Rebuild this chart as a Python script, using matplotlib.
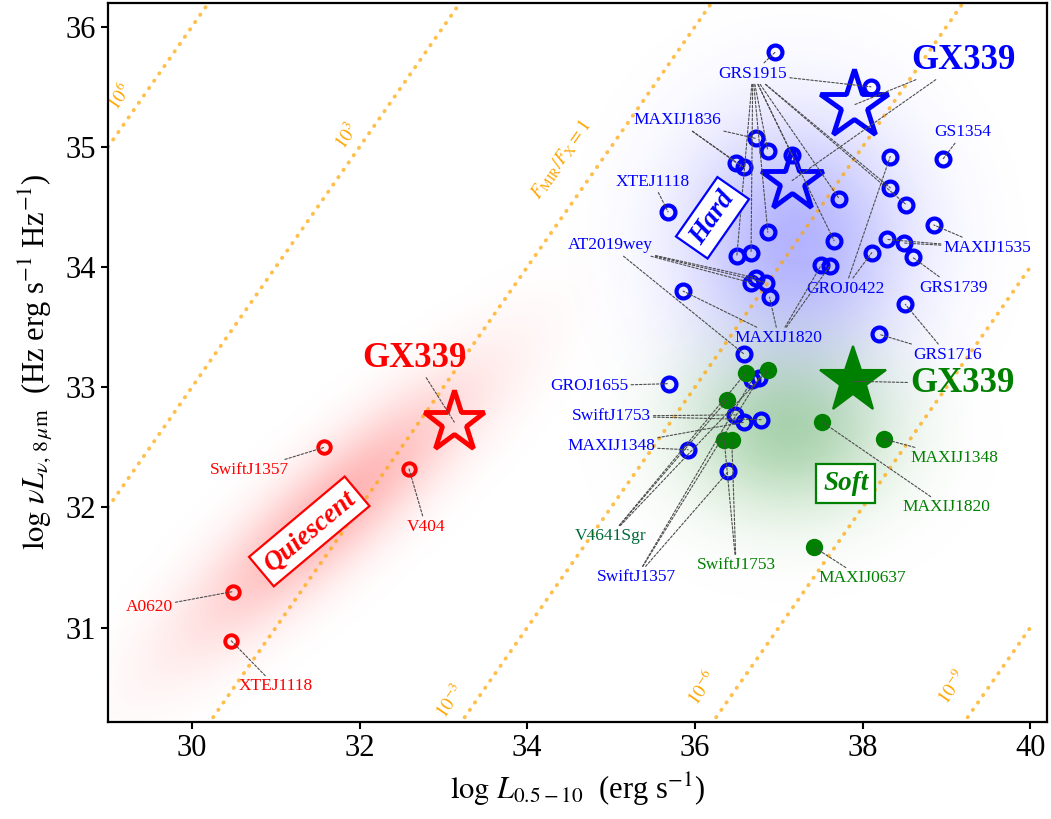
import numpy as np
import matplotlib
matplotlib.use("Agg")
import matplotlib.pyplot as plt

plt.rcParams["font.family"] = ["Liberation Serif", "DejaVu Serif"]
plt.rcParams["mathtext.fontset"] = "stix"

# ---------------- data ----------------
# hard state (open blue circles)
hard_x = [36.96, 38.10, 36.73, 36.87, 36.49, 36.58, 37.16, 38.96, 38.33, 38.33,
          38.52, 38.85, 37.72, 35.68, 36.87, 38.29, 38.50, 38.60, 38.11, 37.66,
          36.67, 36.50, 37.51, 37.61, 36.73, 36.67, 36.85, 36.89, 35.86, 38.51,
          38.20, 36.58, 35.69, 36.68, 36.77, 36.48, 36.59, 36.79, 35.92, 36.40]
hard_y = [35.79, 35.50, 35.07, 34.97, 34.87, 34.83, 34.93, 34.90, 34.92, 34.66,
          34.52, 34.35, 34.57, 34.46, 34.29, 34.23, 34.20, 34.08, 34.12, 34.22,
          34.12, 34.09, 34.02, 34.01, 33.91, 33.87, 33.87, 33.75, 33.80, 33.69,
          33.44, 33.28, 33.03, 33.06, 33.08, 32.77, 32.71, 32.73, 32.48, 32.30]
hard_src = ["GRS1915", "GRS1915", "MAXIJ1836", "GRS1915", "MAXIJ1836", "MAXIJ1836",
            "GRS1915", "GS1354", "GROJ0422", "GRS1915", "GRS1915", "MAXIJ1535",
            "GRS1915", "XTEJ1118", "GRS1915", "MAXIJ1535", "MAXIJ1535", "GRS1739",
            "GROJ0422", "GRS1915", "GRS1915", "GRS1915", "MAXIJ1820", "MAXIJ1820",
            "AT2019wey", "AT2019wey", "AT2019wey", "MAXIJ1820", "MAXIJ1820", "GRS1716",
            "GRS1716", "AT2019wey", "GROJ1655", "SwiftJ1357", "SwiftJ1357", "SwiftJ1753",
            "MAXIJ1348", "SwiftJ1753", "MAXIJ1348", "SwiftJ1357"]
hard_gx_x = [37.90, 37.16]
hard_gx_y = [35.35, 34.72]

# soft state (filled green circles)
soft_x = [36.61, 36.87, 36.38, 36.35, 36.44, 37.52, 38.25, 37.42]
soft_y = [33.12, 33.14, 32.89, 32.56, 32.56, 32.71, 32.57, 31.67]
soft_src = ["V4641Sgr", "V4641Sgr", "V4641Sgr", "SwiftJ1753", "SwiftJ1753",
            "MAXIJ1820", "MAXIJ1348", "MAXIJ0637"]
soft_gx_x = [37.88]
soft_gx_y = [33.05]

# quiescence (open red circles)
quies_x = [30.49, 30.47, 31.58, 32.59]
quies_y = [31.30, 30.89, 32.50, 32.32]
quies_src = ["A0620", "XTEJ1118", "SwiftJ1357", "V404"]
quies_gx_x = [33.13]
quies_gx_y = [32.71]

# constant MIR/X-ray flux ratios (log)
ratio_log = [6, 3, 0, -3, -6, -9]
ratio_text = [r"$10^{6}$", r"$10^{3}$", r"$F_{\rm MIR}/F_{\rm X}=1$",
              r"$10^{-3}$", r"$10^{-6}$", r"$10^{-9}$"]
ratio_text_pos = [(29.14, 35.42), (31.85, 35.09), (34.40, 34.90),
                  (33.09, 30.38), (36.09, 30.50), (39.07, 30.50)]

# label placement
hard_label_pos = {
    "GRS1915": (36.69, 35.61), "MAXIJ1836": (35.79, 35.22), "XTEJ1118": (35.50, 34.71),
    "AT2019wey": (34.99, 34.18), "GROJ0422": (37.79, 33.82), "MAXIJ1820": (37.00, 33.41),
    "GS1354": (39.20, 35.12), "MAXIJ1535": (39.49, 34.16), "GRS1739": (39.09, 33.83),
    "GRS1716": (39.01, 33.27), "GROJ1655": (34.74, 33.01), "SwiftJ1753": (35.00, 32.76),
    "MAXIJ1348": (35.00, 32.51), "SwiftJ1357": (35.30, 31.42),
}
soft_label_pos = {
    "V4641Sgr": (34.99, 31.76), "SwiftJ1753": (36.49, 31.52), "MAXIJ1348": (39.10, 32.41),
    "MAXIJ1820": (39.00, 32.00), "MAXIJ0637": (38.00, 31.41),
}
quies_label_pos = {
    "SwiftJ1357": (30.69, 32.31), "V404": (32.79, 31.84), "A0620": (29.49, 31.17),
    "XTEJ1118": (31.00, 30.51),
}

RED, BLUE, GREEN, DKGREEN, ORANGE = "#ff0000", "#0000ff", "#008000", "#006a3a", "#ffa500"

# ---------------- figure ----------------
fig = plt.figure(figsize=(10.51, 8.19), dpi=100)
ax = fig.add_axes([0.1028, 0.1188, 0.8934, 0.8779])
xlim = (29.0, 40.2)
ylim = (30.217, 36.2)

bb = ax.get_window_extent()
sx = bb.width / (xlim[1] - xlim[0])
sy = bb.height / (ylim[1] - ylim[0])
pix_angle = np.degrees(np.arctan2(sy, sx))

# soft shaded regions for each accretion state
gx = np.linspace(*xlim, 700)
gy = np.linspace(*ylim, 500)
GX, GY = np.meshgrid(gx, gy)


def blob(cx, cy, sig_a, sig_b, angle, rgb, amax):
    t = np.radians(angle)
    dx = (GX - cx) * sx
    dy = (GY - cy) * sy
    u = dx * np.cos(t) + dy * np.sin(t)
    v = -dx * np.sin(t) + dy * np.cos(t)
    img = np.zeros(GX.shape + (4,))
    img[..., :3] = matplotlib.colors.to_rgb(rgb)
    img[..., 3] = amax * np.exp(-0.5 * ((u / sig_a) ** 2 + (v / sig_b) ** 2))
    ax.imshow(img, extent=(*xlim, *ylim), origin="lower", aspect="auto",
              zorder=0, interpolation="bilinear")


blob(31.68, 31.98, 130, 34, 42, RED, 0.30)
blob(37.22, 34.20, 78, 85, 0, BLUE, 0.30)
blob(37.12, 32.64, 72, 58, 0, GREEN, 0.32)

# flux-ratio lines
xx = np.array([29.0, 40.0])
for k, txt, (tx, ty) in zip(ratio_log, ratio_text, ratio_text_pos):
    ax.plot(xx, xx + k, color=ORANGE, alpha=0.7, lw=2.8, ls=(0, (0.1, 2.2)),
            dash_capstyle="round", zorder=1)
    ax.text(tx, ty, txt, color=ORANGE, fontsize=13.5, rotation=pix_angle,
            ha="center", va="center", zorder=1)

LEADER = dict(arrowstyle="-", ls=(0, (2.2, 1.6)), lw=0.8, color="0.3",
              shrinkA=0, shrinkB=0)


def label_sources(xs, ys, srcs, positions, color, fs=12.5):
    for name, (tx, ty) in positions.items():
        pts = [(x, y) for x, y, s in zip(xs, ys, srcs) if s == name]
        for k, (x, y) in enumerate(pts):
            ax.annotate(name, xy=(x, y), xytext=(tx, ty), ha="center", va="center",
                        fontsize=fs, color=color if k == 0 else "none",
                        arrowprops=LEADER, zorder=6)


def label_gx(xs, ys, pos, color):
    for k, (x, y) in enumerate(zip(xs, ys)):
        ax.annotate("GX339", xy=(x, y), xytext=pos, ha="center", va="center",
                    fontsize=25, fontweight="bold", color=color if k == 0 else "none",
                    arrowprops=LEADER, zorder=6)


# markers
ax.plot(hard_x, hard_y, "o", ms=10, mfc="none", mec=BLUE, mew=3.0, zorder=4)
ax.plot(hard_gx_x[:1], hard_gx_y[:1], "*", ms=52, mfc="none", mec=BLUE, mew=3.5, zorder=4)
ax.plot(hard_gx_x[1:], hard_gx_y[1:], "*", ms=47, mfc="none", mec=BLUE, mew=3.5, zorder=4)
ax.plot(soft_x, soft_y, "o", ms=12.5, mfc=GREEN, mec=GREEN, mew=0, zorder=4)
ax.plot(soft_gx_x, soft_gx_y, "*", ms=50, mfc=GREEN, mec=GREEN, mew=1.5, zorder=4)
ax.plot(quies_x, quies_y, "o", ms=9, mfc="none", mec=RED, mew=2.8, zorder=4)
ax.plot(quies_gx_x, quies_gx_y, "*", ms=46, mfc="none", mec=RED, mew=3.5, zorder=4)

# labels and leader lines
label_sources(hard_x, hard_y, hard_src, hard_label_pos, BLUE)
label_sources(soft_x, soft_y, soft_src, {k: v for k, v in soft_label_pos.items()
                                         if k != "V4641Sgr"}, GREEN)
label_sources(soft_x, soft_y, soft_src, {"V4641Sgr": soft_label_pos["V4641Sgr"]}, DKGREEN)
label_sources(quies_x, quies_y, quies_src, quies_label_pos, RED)
label_gx(hard_gx_x, hard_gx_y, (39.20, 35.72), BLUE)
label_gx(soft_gx_x, soft_gx_y, (39.19, 33.03), GREEN)
label_gx(quies_gx_x, quies_gx_y, (32.65, 33.24), RED)

# state boxes
for txt, (bx, by), rot, col in [("Quiescent", (31.40, 31.80), 40, RED),
                                ("Hard", (36.21, 34.41), pix_angle, BLUE),
                                ("Soft", (37.80, 32.20), 0, GREEN)]:
    ax.text(bx, by, txt, fontsize=19.5, fontweight="bold", style="italic", color=col,
            rotation=rot, ha="center", va="center", rotation_mode="anchor", zorder=7,
            bbox=dict(boxstyle="square,pad=0.25", fc="white", ec=col, lw=1.6))

ax.set_xlim(xlim)
ax.set_ylim(ylim)
ax.set_xticks([30, 32, 34, 36, 38, 40])
ax.set_yticks([31, 32, 33, 34, 35, 36])
ax.tick_params(labelsize=22, width=1.5, length=5, direction="out")
for s in ax.spines.values():
    s.set_linewidth(1.6)
ax.set_xlabel(r"$\log\,L_{0.5-10}$  (erg s$^{-1}$)", fontsize=22, labelpad=6)
ax.set_ylabel(r"$\log\,\nu L_{\nu,\,8\,\mu{\rm m}}$  (Hz erg s$^{-1}$ Hz$^{-1}$)",
              fontsize=22, labelpad=8)

fig.savefig("out.png", dpi=100)
